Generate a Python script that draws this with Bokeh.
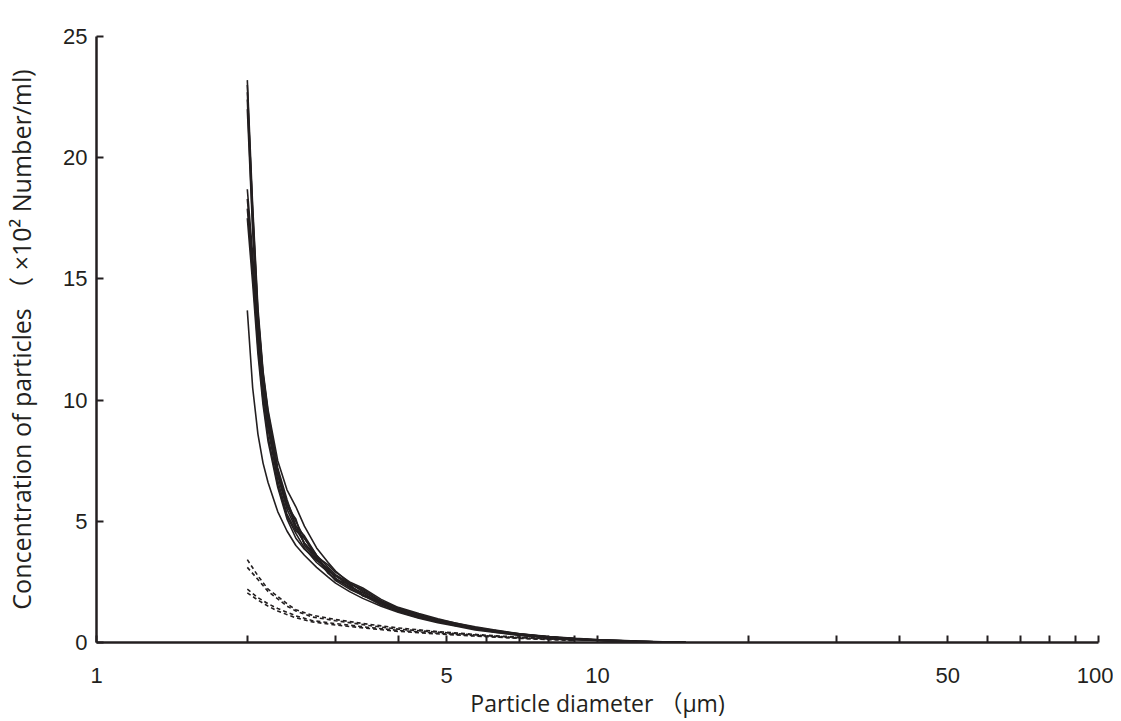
from bokeh.plotting import figure
from bokeh.models import Range1d, FixedTicker
from bokeh.embed import file_html
from bokeh.resources import INLINE

# ---------------- data ----------------
# particle diameter (um) for the solid (sample) curves
x_solid = [2.0, 2.05, 2.1, 2.15, 2.2, 2.3, 2.4, 2.5, 2.6, 2.75, 2.9, 3.0, 3.2, 3.4,
           3.7, 4.0, 4.4, 4.8, 5.2, 5.7, 6.2, 7.0, 8.0, 9.0, 10.0, 11.0, 12.0, 13.5, 15.0]

s1 = [23.2, 18.0, 13.8, 11.2, 9.6, 7.5, 6.3, 5.6, 4.8, 3.9, 3.3, 2.95, 2.45, 2.1,
      1.7, 1.42, 1.12, 0.92, 0.76, 0.6, 0.48, 0.34, 0.22, 0.15, 0.1, 0.07, 0.05, 0.02, 0.0]
s2 = [23.0, 17.6, 13.5, 11.0, 9.4, 7.1, 5.7, 4.8, 4.4, 3.6, 2.9, 2.6, 2.3, 2.05,
      1.6, 1.32, 1.14, 0.88, 0.72, 0.62, 0.46, 0.33, 0.23, 0.14, 0.09, 0.08, 0.04, 0.02, 0.0]
s3 = [22.4, 17.2, 13.2, 10.8, 9.2, 7.0, 5.6, 5.1, 4.0, 3.4, 3.05, 2.65, 2.25, 1.95,
      1.65, 1.34, 1.05, 0.92, 0.74, 0.58, 0.5, 0.32, 0.21, 0.16, 0.08, 0.06, 0.05, 0.02, 0.0]
s4 = [18.7, 16.0, 12.8, 10.6, 9.0, 6.9, 5.5, 4.7, 4.1, 3.45, 2.95, 2.75, 2.35, 1.98,
      1.6, 1.38, 1.08, 0.95, 0.7, 0.6, 0.45, 0.36, 0.22, 0.14, 0.11, 0.05, 0.05, 0.02, 0.0]
s5 = [18.3, 15.6, 12.5, 10.3, 8.8, 6.7, 5.3, 4.6, 4.3, 3.5, 2.85, 2.6, 2.4, 1.92,
      1.68, 1.3, 1.1, 0.85, 0.78, 0.55, 0.49, 0.31, 0.24, 0.13, 0.1, 0.07, 0.03, 0.03, 0.0]
s6 = [17.9, 15.2, 12.2, 10.0, 8.5, 6.5, 5.2, 4.5, 3.9, 3.3, 2.9, 2.55, 2.2, 1.95,
      1.55, 1.28, 1.02, 0.88, 0.7, 0.57, 0.44, 0.3, 0.2, 0.13, 0.09, 0.06, 0.04, 0.01, 0.0]
s7 = [13.7, 10.5, 8.6, 7.4, 6.6, 5.4, 4.6, 4.0, 3.6, 3.1, 2.7, 2.45, 2.1, 1.82,
      1.5, 1.25, 1.0, 0.82, 0.68, 0.52, 0.42, 0.29, 0.19, 0.12, 0.08, 0.05, 0.03, 0.01, 0.0]
s8 = [22.0, 17.0, 13.0, 10.7, 9.1, 7.0, 5.8, 5.0, 4.3, 3.6, 3.1, 2.8, 2.45, 2.15,
      1.64, 1.35, 1.08, 0.9, 0.72, 0.6, 0.47, 0.33, 0.21, 0.15, 0.09, 0.07, 0.04, 0.02, 0.0]
s9 = [17.5, 14.8, 11.9, 9.8, 8.3, 6.4, 5.1, 4.3, 3.85, 3.4, 3.0, 2.75, 2.42, 2.2,
      1.72, 1.42, 1.15, 0.95, 0.8, 0.62, 0.5, 0.35, 0.24, 0.16, 0.1, 0.08, 0.05, 0.02, 0.0]
s10 = [22.7, 17.8, 13.6, 11.1, 9.5, 7.2, 5.9, 4.8, 4.1, 3.55, 3.2, 2.9, 2.5, 2.25,
       1.78, 1.45, 1.2, 0.98, 0.8, 0.65, 0.52, 0.36, 0.25, 0.17, 0.12, 0.09, 0.06, 0.03, 0.0]
solid_series = [s1, s2, s3, s4, s5, s6, s7, s8, s9, s10]

# particle diameter (um) for the dashed (control) curves
x_dash = [2.0, 2.1, 2.2, 2.3, 2.4, 2.5, 2.7, 3.0, 3.5, 4.0, 5.0, 6.0, 7.0, 8.0, 9.0]
d1 = [3.42, 2.75, 2.2, 1.9, 1.6, 1.35, 1.12, 0.95, 0.75, 0.6, 0.42, 0.3, 0.22, 0.16, 0.12]
d2 = [3.1, 2.6, 2.1, 1.8, 1.5, 1.3, 1.05, 0.9, 0.7, 0.55, 0.4, 0.28, 0.2, 0.15, 0.1]
d3 = [2.2, 1.85, 1.6, 1.4, 1.25, 1.1, 0.9, 0.78, 0.62, 0.5, 0.36, 0.26, 0.18, 0.13, 0.09]
d4 = [2.05, 1.75, 1.5, 1.3, 1.15, 1.02, 0.85, 0.72, 0.58, 0.46, 0.33, 0.24, 0.17, 0.12, 0.08]
dash_series = [d1, d2, d3, d4]

x_ticks = [1, 2, 3, 4, 5, 6, 7, 8, 9, 10, 20, 30, 40, 50, 60, 70, 80, 90, 100]
x_labeled = [1, 5, 10, 50, 100]
y_ticks = [0, 5, 10, 15, 20, 25]

x_title = "Particle diameter （μm)"
y_title = "Concentration of particles （ ×10² Number/ml)"

# ---------------- figure ----------------
INK = "#231f20"
TICK_FONT = "Liberation Sans, 'Noto Sans CJK JP', sans-serif"
TITLE_FONT = "'Open Sans', 'Noto Sans CJK JP', sans-serif"

p = figure(width=1113, height=721, x_axis_type="log",
           x_range=Range1d(1, 100), y_range=Range1d(0, 25),
           output_backend="svg", toolbar_location=None,
           min_border_left=96, min_border_right=15,
           min_border_top=36, min_border_bottom=79)
p.outline_line_color = None
p.grid.visible = False
p.background_fill_color = "white"
p.border_fill_color = "white"

for ys in solid_series:
    p.line(x_solid, ys, line_color=INK, line_width=1.6)
for ys in dash_series:
    p.line(x_dash, ys, line_color=INK, line_width=1.6, line_dash="4 3")

xa = p.xaxis[0]
xa.ticker = FixedTicker(ticks=x_ticks, minor_ticks=[])
xa.major_label_overrides = {t: (str(t) if t in x_labeled else "") for t in x_ticks}
ya = p.yaxis[0]
ya.ticker = FixedTicker(ticks=y_ticks, minor_ticks=[])

for ax in (xa, ya):
    ax.axis_line_color = INK
    ax.axis_line_width = 2.5
    ax.major_tick_line_color = INK
    ax.major_tick_line_width = 2
    ax.major_tick_in = 7
    ax.major_tick_out = 0
    ax.minor_tick_line_color = None
    ax.major_label_text_font = TICK_FONT
    ax.major_label_text_font_size = "22px"
    ax.major_label_text_color = INK
    ax.axis_label_text_font = TITLE_FONT
    ax.axis_label_text_font_style = "normal"
    ax.axis_label_text_color = INK

xa.axis_label = x_title
xa.axis_label_text_font_size = "23px"
xa.major_label_standoff = 25
xa.axis_label_standoff = 1
ya.axis_label = y_title
ya.axis_label_text_font_size = "25px"
ya.major_label_standoff = 9
ya.axis_label_standoff = 22

open("out.html", "w").write(file_html(p, INLINE))
